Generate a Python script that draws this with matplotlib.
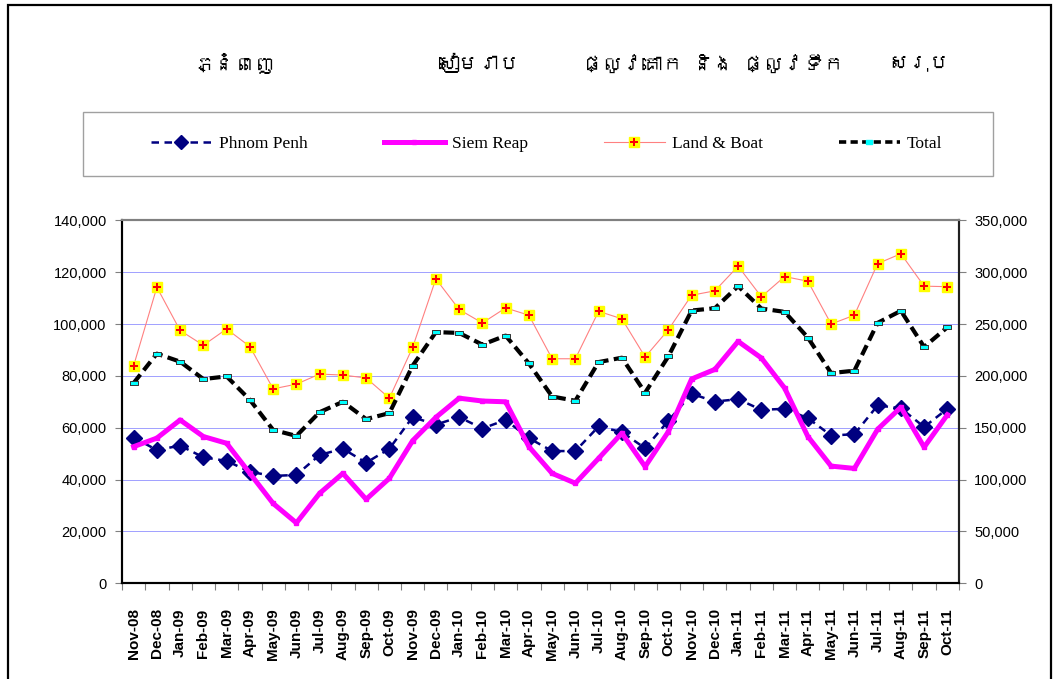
import matplotlib
matplotlib.use("Agg")
import matplotlib.pyplot as plt
from matplotlib import font_manager
from matplotlib.ft2font import FT2Font
from matplotlib.patches import Rectangle
from matplotlib.lines import Line2D
from matplotlib.legend_handler import HandlerTuple
from matplotlib.ticker import FuncFormatter, FixedLocator

months = ["Nov-08", "Dec-08", "Jan-09", "Feb-09", "Mar-09", "Apr-09", "May-09", "Jun-09",
          "Jul-09", "Aug-09", "Sep-09", "Oct-09", "Nov-09", "Dec-09", "Jan-10", "Feb-10",
          "Mar-10", "Apr-10", "May-10", "Jun-10", "Jul-10", "Aug-10", "Sep-10", "Oct-10",
          "Nov-10", "Dec-10", "Jan-11", "Feb-11", "Mar-11", "Apr-11", "May-11", "Jun-11",
          "Jul-11", "Aug-11", "Sep-11", "Oct-11"]

phnom_penh = [56200, 51400, 53100, 48600, 47200, 43000, 41400, 41800, 49500, 51900, 46500, 51900,
              64100, 61200, 64100, 59700, 63000, 56000, 51000, 51000, 60500, 58300, 52100, 62700,
              73100, 70100, 71000, 66900, 67300, 63700, 57000, 57500, 68600, 67500, 60300, 67300]

siem_reap = [52700, 56000, 63000, 56600, 54000, 42400, 30800, 23300, 34700, 42400, 32400, 40500,
             55000, 64000, 71400, 70300, 70000, 52700, 42400, 38600, 48200, 57900, 45000, 58500,
             78800, 82500, 93300, 86900, 75300, 56600, 45200, 44300, 59400, 67900, 52500, 65000]

land_boat = [83900, 114200, 97500, 91800, 98100, 91300, 75000, 76800, 80700, 80300, 79200, 71400,
             91000, 117400, 105600, 100400, 106200, 103400, 86600, 86600, 104900, 102000, 87300, 97800,
             111100, 112800, 122300, 110500, 118300, 116500, 100000, 103400, 123300, 127100, 114600, 114400]

total = [193100, 221400, 213700, 196900, 199500, 176900, 147900, 142100, 165000, 175000, 158300, 164100,
         209800, 242200, 241400, 230100, 238800, 212000, 180100, 176000, 213300, 217500, 183800, 218800,
         263000, 265200, 286500, 264900, 261700, 236900, 202700, 205000, 251100, 262700, 227900, 246900]

series_names = ["Phnom Penh", "Siem Reap", "Land & Boat", "Total"]
khmer_titles = ["ភ្នំពេញ", "សៀមរាប", "ផ្លូវគោក និង ផ្លូវទឹក", "សរុប"]

left_ticks = [0, 20000, 40000, 60000, 80000, 100000, 120000, 140000]
right_ticks = [0, 50000, 100000, 150000, 200000, 250000, 300000, 350000]


def find_khmer_font():
    names = []
    for f in font_manager.fontManager.ttflist:
        try:
            cm = FT2Font(f.fname).get_charmap()
            if 0x1797 in cm and 0x1787 in cm:
                names.append(f.name)
        except Exception:
            pass
    return names[0] if names else None


khmer_font = find_khmer_font()
title_family = [khmer_font, "DejaVu Sans"] if khmer_font else ["DejaVu Sans"]

W, H = 1056, 679
fig = plt.figure(figsize=(W / 100, H / 100), dpi=100)
fig.patch.set_facecolor("white")

# outer border
fig.patches.append(Rectangle((8 / W, -0.02), (1051 - 8) / W, 1 - 5 / H + 0.02,
                             transform=fig.transFigure, fill=False, edgecolor="black",
                             linewidth=1.6, zorder=0))

x0, x1 = 122, 959
y0, y1 = 220.3, 583.3
ax = fig.add_axes([x0 / W, 1 - y1 / H, (x1 - x0) / W, (y1 - y0) / H])
ax2 = ax.twinx()

x = list(range(len(months)))

# gridlines
ax.set_axisbelow(True)
ax.yaxis.grid(True, color="#a0a0ff", linewidth=0.7)

ax.plot(x, phnom_penh, color="#000080", linewidth=1.8, linestyle=(0, (3, 2.2)),
        marker="D", markersize=8, markerfacecolor="#000080", markeredgecolor="#000080", zorder=3)
ax.plot(x, siem_reap, color="#ff00ff", linewidth=3.6, marker="s", markersize=2.5,
        markerfacecolor="#ff00ff", markeredgecolor="#ff00ff", zorder=4)
ax.plot(x, land_boat, color="#ff8080", linewidth=0.8, zorder=2)
ax.plot(x, land_boat, linestyle="none", marker="s", markersize=6.5,
        markerfacecolor="#ffff00", markeredgecolor="#ffff00", zorder=2.5)
ax.plot(x, land_boat, linestyle="none", marker="P", markersize=6,
        markerfacecolor="#ff0000", markeredgecolor="#ff0000", markeredgewidth=0, zorder=2.6)

rect_marker = [(-1, -0.55), (1, -0.55), (1, 0.55), (-1, 0.55), (-1, -0.55)]
ax2.plot(x, total, color="black", linewidth=3.0, linestyle=(0, (2.6, 1.3)),
         marker=rect_marker, markersize=5.5, markerfacecolor="#00ffff",
         markeredgecolor="#333333", markeredgewidth=0.7, zorder=3)

ax.set_xlim(-0.5, len(months) - 0.5)
ax.set_ylim(0, 140000)
ax2.set_ylim(0, 350000)

fmt = FuncFormatter(lambda v, p: f"{int(v):,}")
ax.yaxis.set_major_locator(FixedLocator(left_ticks))
ax2.yaxis.set_major_locator(FixedLocator(right_ticks))
ax.yaxis.set_major_formatter(fmt)
ax2.yaxis.set_major_formatter(fmt)

ax.set_xticks(x)
ax.set_xticklabels(months, rotation=90, fontsize=11, fontweight="bold", family="Liberation Sans")
ax.set_xticks([i - 0.5 for i in range(len(months) + 1)], minor=True)
ax.tick_params(axis="x", which="major", length=0, pad=18)
ax.tick_params(axis="x", which="minor", length=5, width=0.8, color="#808080", direction="out")
ax.tick_params(axis="y", length=5, width=0.8, color="#808080", labelsize=10.5, pad=6)
ax2.tick_params(axis="y", length=5, width=0.8, color="#808080", labelsize=10.5, pad=6)
for lab in ax.get_yticklabels() + ax2.get_yticklabels():
    lab.set_family("Liberation Sans")

for a in (ax, ax2):
    a.spines["top"].set_color("#808080")
    a.spines["top"].set_linewidth(1.5)
    a.spines["left"].set_color("black")
    a.spines["left"].set_linewidth(1.5)
    a.spines["bottom"].set_color("black")
    a.spines["bottom"].set_linewidth(1.5)
    a.spines["right"].set_color("#202020")
    a.spines["right"].set_linewidth(1.5)

# Khmer titles
title_x = [235, 478, 713, 918]
for tx, t in zip(title_x, khmer_titles):
    fig.text(tx / W, 1 - 63 / H, t, ha="center", va="center", fontsize=14.5, family=title_family)

# legend frame
lx0, lx1, ly0, ly1 = 83, 993, 112, 176
fig.patches.append(Rectangle((lx0 / W, 1 - ly1 / H), (lx1 - lx0) / W, (ly1 - ly0) / H,
                             transform=fig.transFigure, fill=True, facecolor="white",
                             edgecolor="#a0a0a0", linewidth=1.0, zorder=1))

lb_handle = (
    Line2D([], [], color="#ff8080", linewidth=0.8, marker="s", markersize=6.5,
           markerfacecolor="#ffff00", markeredgecolor="#ffff00"),
    Line2D([], [], linestyle="none", marker="P", markersize=6,
           markerfacecolor="#ff0000", markeredgecolor="#ff0000", markeredgewidth=0),
)
handles = [
    Line2D([], [], color="#000080", linewidth=1.8, linestyle=(0, (3, 2.2)), marker="D",
           markersize=7, markerfacecolor="#000080", markeredgecolor="#000080"),
    Line2D([], [], color="#ff00ff", linewidth=3.6, marker="s", markersize=2.5,
           markerfacecolor="#ff00ff", markeredgecolor="#ff00ff"),
    lb_handle,
    Line2D([], [], color="black", linewidth=2.6, linestyle=(0, (2.0, 1.2)), marker=rect_marker,
           markersize=5, markerfacecolor="#00ffff", markeredgecolor="#00ffff"),
]
leg = fig.legend(handles, series_names, loc="center left",
                 bbox_to_anchor=(151 / W, 1 - 144 / H),
                 ncol=4, frameon=False, borderpad=0, borderaxespad=0,
                 handlelength=3.5, handletextpad=0.4, columnspacing=4.4,
                 handler_map={tuple: HandlerTuple(ndivide=1)},
                 prop={"family": "Liberation Serif", "size": 12.5})
leg.set_zorder(2)

fig.savefig("out.png", dpi=100, facecolor="white")
